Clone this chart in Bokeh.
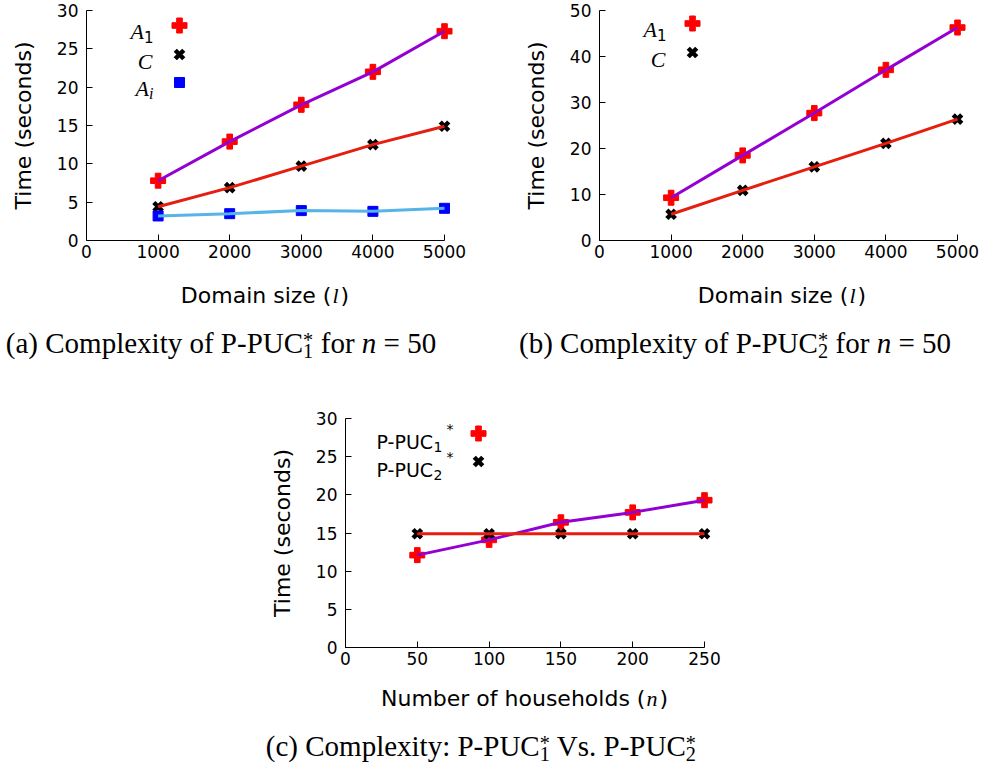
from bokeh.plotting import figure
from bokeh.models import Range1d, FixedTicker, Label, Spacer, Div
from bokeh.layouts import row, column
from bokeh.embed import file_html
from bokeh.resources import INLINE

# ---------------- data ----------------
domain_sizes = [1000, 2000, 3000, 4000, 5000]
a_A1 = [7.8, 12.9, 17.7, 22.0, 27.3]
a_C = [4.4, 6.9, 9.7, 12.5, 14.9]
a_Ai = [3.2, 3.5, 3.9, 3.8, 4.2]

b_A1 = [9.3, 18.5, 27.7, 37.1, 46.3]
b_C = [5.7, 10.9, 16.0, 21.1, 26.4]

households = [50, 100, 150, 200, 250]
c_puc1 = [12.1, 14.1, 16.4, 17.7, 19.3]
c_puc2 = [14.9, 14.9, 14.9, 14.9, 14.9]

domain_ticks = [0, 1000, 2000, 3000, 4000, 5000]
time_ticks_a = [0, 5, 10, 15, 20, 25, 30]
time_ticks_b = [0, 10, 20, 30, 40, 50]
household_ticks = [0, 50, 100, 150, 200, 250]

# ---------------- styling ----------------
PURPLE = "#9400D3"
RED_LINE = "#E51E10"
BLUE_LINE = "#56B4E9"
RED = "#FF0000"
BLUE = "#0000FF"
BLACK = "#000000"

SERIF = "Liberation Serif"
SANS = "DejaVu Sans"

IT = {'A': .611, 'C': .667, 'n': .5, 'l': .278, 'i': .278}
SF = {' ': .318, '(': .39, ')': .39, '*': .5, '-': .361, 'C': .698, 'P': .603, 'U': .732}
KINDS = {"it": (SERIF, "italic", IT, .5), "sf": (SANS, "normal", SF, .636)}


def text_w(text, kind, size):
    table, digit = KINDS[kind][2], KINDS[kind][3]
    return sum(digit if ch.isdigit() else table.get(ch, .5) for ch in text) * size


def rich(p, x, y, pieces, align="center"):
    """pieces: (text, kind, size, dy); x, y in frame pixels (y up)."""
    widths = [text_w(t, k, s) for (t, k, s, dy) in pieces]
    total = sum(widths)
    cur = x - total / 2 if align == "center" else (x - total if align == "right" else x)
    for (t, k, s, dy), w in zip(pieces, widths):
        font, style = KINDS[k][0], KINDS[k][1]
        p.add_layout(Label(x=cur, y=y + dy, x_units="screen", y_units="screen", text=t,
                           text_font=font, text_font_style=style, text_font_size=f"{s}px",
                           text_color=BLACK, text_align="left", text_baseline="alphabetic"))
        cur += w


def make_fig(width, height, left, top, bottom, x_axis_end, y_end, xticks, yticks,
             axis_frame_w, full_frame_w, frame_h):
    p = figure(width=width, height=height, output_backend="svg", toolbar_location=None,
               x_range=Range1d(0, x_axis_end * full_frame_w / axis_frame_w), y_range=Range1d(0, y_end),
               min_border_left=left, min_border_right=width - left - full_frame_w,
               min_border_top=top, min_border_bottom=bottom)
    p.extra_x_ranges = {"px": Range1d(0, full_frame_w)}
    p.extra_y_ranges = {"px": Range1d(0, frame_h)}
    p.xaxis.bounds = (0, x_axis_end)
    p.grid.visible = False
    p.outline_line_color = None
    p.xaxis.ticker = FixedTicker(ticks=xticks)
    p.yaxis.ticker = FixedTicker(ticks=yticks)
    for ax in (p.xaxis[0], p.yaxis[0]):
        ax.major_tick_in = 6
        ax.major_tick_out = 0
        ax.minor_tick_in = 0
        ax.minor_tick_out = 0
        ax.axis_line_color = BLACK
        ax.major_tick_line_color = BLACK
        ax.major_label_text_font = SANS
        ax.major_label_text_font_size = "17px"
        ax.major_label_text_color = BLACK
    p.xaxis.major_label_standoff = 4
    p.yaxis.major_label_standoff = 8
    p.yaxis.axis_label = "Time (seconds)"
    p.yaxis.axis_label_text_font = SANS
    p.yaxis.axis_label_text_font_size = "22px"
    p.yaxis.axis_label_text_font_style = "normal"
    p.yaxis.axis_label_text_color = BLACK
    p.yaxis.axis_label_standoff = 18
    return p


def stack(sup, sub):
    # TeX-like stacked superscript / subscript
    return ('<span style="display:inline-block;position:relative;width:0.36em;height:0.7em;'
            'vertical-align:baseline;">'
            f'<span style="position:absolute;left:0;bottom:0.294em;font-size:0.7em;line-height:0.55;">{sup}</span>'
            f'<span style="position:absolute;left:0;bottom:-0.206em;font-size:0.7em;line-height:0.55;">{sub}</span>'
            '</span>')


def line_html(x, baseline, size, family, content):
    top = baseline - 0.84 * size
    return (f'<span style="position:absolute;left:{x}px;top:{top:.1f}px;transform:translateX(-50%);'
            f'white-space:nowrap;font-family:\'{family}\';font-size:{size}px;line-height:1;color:#000;">'
            f'{content}</span>')


def text_div(width, height, lines):
    html = (f'<div style="position:relative;width:{width}px;height:{height}px;">'
            + "".join(lines) + '</div>')
    return Div(text=html, width=width, height=height, margin=0)


ITAL = f"<i style=\"font-family:'{SERIF}';margin:0 2px 0 1px;\">{{}}</i>"
CAP = 29
AX = 22

X_MARK = dict(marker="x", size=12, line_width=4.5, color=BLACK)
PLUS_MARK = dict(marker="plus", size=15, color=RED)
SQ_MARK = dict(marker="square", size=10, color=BLUE)
PX = dict(x_range_name="px", y_range_name="px")

FRAME_AB_W, FRAME_AB_WF, FRAME_AB_H = 358, 369, 230
FRAME_C_W, FRAME_C_WF, FRAME_C_H = 359, 370, 229

TOP_H = 400
PLOT_AB_H = 10 + FRAME_AB_H + 25
TXT_AB_H = TOP_H - PLOT_AB_H
W_A, W_B = 490, 489
LEFT_A, LEFT_B = 86, 109

# ---------------- panel (a) ----------------
pa = make_fig(W_A, PLOT_AB_H, LEFT_A, 10, 25, domain_ticks[-1], time_ticks_a[-1],
              domain_ticks, time_ticks_a, FRAME_AB_W, FRAME_AB_WF, FRAME_AB_H)
pa.scatter(domain_sizes, a_A1, **PLUS_MARK)
pa.scatter(domain_sizes, a_C, **X_MARK)
pa.scatter(domain_sizes, a_Ai, **SQ_MARK)
pa.line(domain_sizes, a_A1, line_width=3, color=PURPLE)
pa.line(domain_sizes, a_C, line_width=3, color=RED_LINE)
pa.line(domain_sizes, a_Ai, line_width=3, color=BLUE_LINE)

leg_rows_a = [215, 186, 158]
leg_x = 93
pa.scatter([leg_x], [leg_rows_a[0]], **PLUS_MARK, **PX)
pa.scatter([leg_x], [leg_rows_a[1]], **X_MARK, **PX)
pa.scatter([leg_x], [leg_rows_a[2]], **SQ_MARK, **PX)
rich(pa, 67, leg_rows_a[0] - 6, [("A", "it", 22, 0), ("1", "sf", 15, -5)], align="right")
rich(pa, 66, leg_rows_a[1] - 7, [("C", "it", 22, 0)], align="right")
rich(pa, 67, leg_rows_a[2] - 6, [("A", "it", 22, 0), ("i", "it", 16, -5)], align="right")

ta = text_div(W_A, TXT_AB_H, [
    line_html(LEFT_A + FRAME_AB_W / 2, 38, AX, SANS, "Domain size (" + ITAL.format("l") + ")"),
    line_html(221, 88, CAP, SERIF, "(a) Complexity of P-PUC" + stack("*", "1") + " for <i>n</i> = 50"),
])

# ---------------- panel (b) ----------------
pb = make_fig(W_B, PLOT_AB_H, LEFT_B, 10, 25, domain_ticks[-1], time_ticks_b[-1],
              domain_ticks, time_ticks_b, FRAME_AB_W, FRAME_AB_WF, FRAME_AB_H)
pb.scatter(domain_sizes, b_A1, **PLUS_MARK)
pb.scatter(domain_sizes, b_C, **X_MARK)
pb.line(domain_sizes, b_A1, line_width=3, color=PURPLE)
pb.line(domain_sizes, b_C, line_width=3, color=RED_LINE)
leg_rows_b = [217, 188]
pb.scatter([leg_x], [leg_rows_b[0]], **PLUS_MARK, **PX)
pb.scatter([leg_x], [leg_rows_b[1]], **X_MARK, **PX)
rich(pb, 67, leg_rows_b[0] - 6, [("A", "it", 22, 0), ("1", "sf", 15, -5)], align="right")
rich(pb, 66, leg_rows_b[1] - 7, [("C", "it", 22, 0)], align="right")

tb = text_div(W_B, TXT_AB_H, [
    line_html(292, 38, AX, SANS, "Domain size (" + ITAL.format("l") + ")"),
    line_html(245, 88, CAP, SERIF, "(b) Complexity of P-PUC" + stack("*", "2") + " for <i>n</i> = 50"),
])

# ---------------- panel (c) ----------------
SPACER_W = 200
W_C = 600
LEFT_C = 145
PLOT_C_H = 18 + FRAME_C_H + 27
BOTTOM_H = 768 - TOP_H
TXT_C_H = BOTTOM_H - PLOT_C_H
pc = make_fig(W_C, PLOT_C_H, LEFT_C, 18, 27, household_ticks[-1], time_ticks_a[-1],
              household_ticks, time_ticks_a, FRAME_C_W, FRAME_C_WF, FRAME_C_H)
pc.scatter(households, c_puc1, **PLUS_MARK)
pc.scatter(households, c_puc2, **X_MARK)
pc.line(households, c_puc1, line_width=3, color=PURPLE)
pc.line(households, c_puc2, line_width=3, color=RED_LINE)
leg_rows_c = [214, 186]
leg_x_c = 133
pc.scatter([leg_x_c], [leg_rows_c[0]], **PLUS_MARK, **PX)
pc.scatter([leg_x_c], [leg_rows_c[1]], **X_MARK, **PX)
for yc, sub in zip(leg_rows_c, ["1", "2"]):
    rich(pc, 88, yc - 8, [("P-PUC", "sf", 19, 0)], align="right")
    rich(pc, 88, yc - 13, [(sub, "sf", 14, 0)], align="left")
    rich(pc, 101, yc + 5, [("*", "sf", 14, 0)], align="left")

tc = text_div(W_C, TXT_C_H, [
    line_html(LEFT_C + FRAME_C_W / 2, 32, AX, SANS, "Number of households (" + ITAL.format("n") + ")"),
    line_html(281, 82, CAP, SERIF, "(c) Complexity: P-PUC" + stack("*", "1") + " Vs. P-PUC" + stack("*", "2")),
])

layout = column(row(column(pa, ta), column(pb, tb)),
                row(Spacer(width=SPACER_W, height=BOTTOM_H), column(pc, tc)))

open("out.html", "w").write(file_html(layout, INLINE))
